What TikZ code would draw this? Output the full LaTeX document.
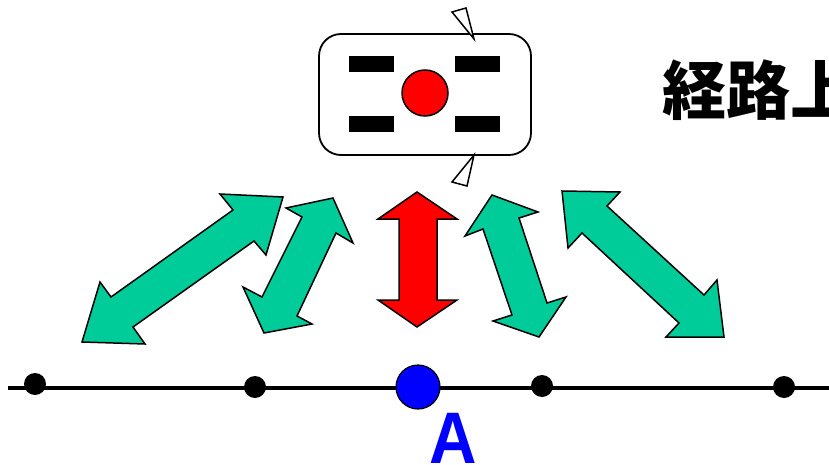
\documentclass[tikz,border=0pt]{standalone}
\usepackage{fontspec}
\setmainfont{Liberation Sans}
\newfontfamily\jpfont{Noto Sans CJK JP}
\definecolor{teal1}{HTML}{00CC99}
\begin{document}
\begin{tikzpicture}[x=1pt,y=-1pt,
  dbl/.style={draw=black,line width=1.5pt,line join=miter},
  dot/.style={circle,fill=black,inner sep=0pt,minimum size=22pt},
  bar/.style={fill=black,inner sep=0pt,minimum width=45pt,minimum height=16pt},
  tri/.style={draw=black,fill=white,line width=1.5pt,line join=miter}]
\useasboundingbox (0,0) rectangle (829,465);
% box
\node[draw=black,line width=1.8pt,rounded corners=22pt,minimum width=212pt,minimum height=121pt,inner sep=0pt] (box) at (425,94.5) {};
\node[bar] (b1) at (371.5,64) {};
\node[bar] (b2) at (477.5,64) {};
\node[bar] (b3) at (371.5,124.5) {};
\node[bar] (b4) at (477.5,124.5) {};
\node[circle,draw=black,line width=1.5pt,fill=red,minimum size=46pt,inner sep=0pt] (c) at (425,93) {};
% markers
\draw[tri] (474,39) -- (452,12) -- (466,8) -- cycle;
\draw[tri] (474,155) -- (452,182) -- (467,186) -- cycle;
% arrows
\draw[dbl,fill=teal1] (283,197) -- (266,255) -- (254,241) -- (133,327) -- (145,344) -- (82,342) -- (100,282) -- (111,297) -- (233,210) -- (220,194) -- cycle;
\draw[dbl,fill=teal1] (333,198) -- (353,243) -- (336,233) -- (297,316) -- (312,324) -- (264,333) -- (243,287) -- (262,297) -- (302,217) -- (286,208) -- cycle;
\draw[dbl,fill=red] (417,192) -- (457,219) -- (437,219) -- (437,300) -- (457,300) -- (417,327) -- (378,300) -- (399,300) -- (399,219) -- (378,219) -- cycle;
\draw[dbl,fill=teal1] (492,195) -- (538,212) -- (519,218) -- (547,303) -- (566,297) -- (539,337) -- (493,321) -- (512,315) -- (483,229) -- (465,236) -- cycle;
\draw[dbl,fill=teal1] (562,191) -- (620,192) -- (607,206) -- (704,295) -- (717,280) -- (724,337) -- (666,337) -- (679,323) -- (582,233) -- (568,248) -- cycle;
% route
\coordinate (ls) at (8,388);
\coordinate (le) at (829,388);
\draw[line width=3.5pt] (ls) -- (le);
\node[dot] (d1) at (35,384) {};
\node[dot] (d2) at (255,387) {};
\node[circle,draw=black,line width=1.2pt,fill=blue,minimum size=44pt,inner sep=0pt] (A) at (418,387) {};
\node[dot] (d3) at (542,386) {};
\node[dot] (d4) at (784,387) {};
\node[text=blue,font=\fontsize{73}{73}\selectfont\bfseries,inner sep=0pt,anchor=base,xscale=0.9] (lab) at (453,463) {A};
% title
\node[font=\jpfont\fontsize{64}{64}\selectfont\bfseries,anchor=west,inner sep=0pt] (title) at (662,90) {経路上};
\end{tikzpicture}
\end{document}
